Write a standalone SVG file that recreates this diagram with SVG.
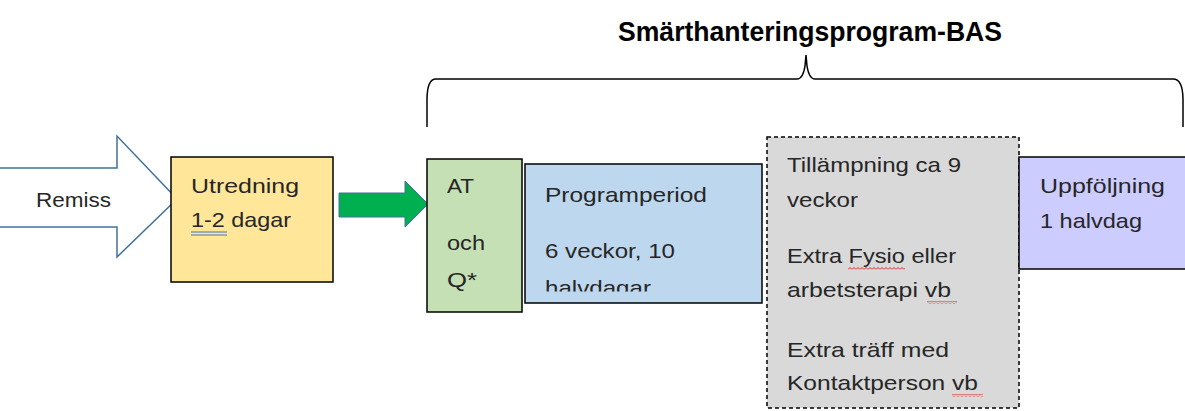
<svg xmlns="http://www.w3.org/2000/svg" width="1185" height="411" viewBox="0 0 1185 411">
<style>
.t{font-family:"Liberation Sans",Arial,sans-serif;font-size:21px;fill:#262626}
.title{font-family:"Liberation Sans",Arial,sans-serif;font-size:28px;font-weight:bold;fill:#000}
.box{stroke:#000;stroke-width:1.5}
.brace{fill:none;stroke:#000;stroke-width:1.5}
</style>
<defs>
<pattern id="wave" x="0" y="0" width="4" height="3" patternUnits="userSpaceOnUse">
<path d="M0,2.5 L2,0.5 L4,2.5" fill="none" stroke="#E02020" stroke-width="1"/>
</pattern>
<clipPath id="clipProg"><rect x="525" y="164" width="237" height="127.5"/></clipPath>
</defs>
<rect width="1185" height="411" fill="#fff"/>

<g id="title">
<text class="title" x="618" y="41" textLength="384" lengthAdjust="spacingAndGlyphs">Smärthanteringsprogram-BAS</text>
</g>

<g id="brace">
<path class="brace" d="M427,127 L427,100 Q427,79 436,79 L797,79 Q803,79 805,66 L806,55 L807,66 Q809,79 815,79 L1173,79 Q1183,79 1183,100 L1183,127"/>
</g>

<g id="connectors">
<path id="remiss-arrow" d="M0,168 L117,168 L117,136 L177,199 L117,257 L117,227 L0,227" fill="#fff" stroke="#41719C" stroke-width="1.5"/>
<polygon id="green-arrow" points="339,193 405,193 405,181 428,204 405,227 405,217 339,217" fill="#00B050" stroke="#41719C" stroke-width="1"/>
</g>

<g id="remiss">
<text class="t" x="36" y="207" textLength="75" lengthAdjust="spacingAndGlyphs">Remiss</text>
</g>

<g id="utredning">
<rect class="box" x="171" y="157" width="162" height="125" fill="#FFE699"/>
<text class="t" x="191" y="193" textLength="108" lengthAdjust="spacingAndGlyphs">Utredning</text>
<text class="t" x="191" y="227" textLength="100" lengthAdjust="spacingAndGlyphs">1-2 dagar</text>
<line x1="191" y1="232" x2="227" y2="232" stroke="#4472C4" stroke-width="1"/>
<line x1="191" y1="235" x2="227" y2="235" stroke="#4472C4" stroke-width="1"/>
</g>

<g id="at">
<rect class="box" x="427" y="159" width="95" height="153" fill="#C5E0B4"/>
<text class="t" x="447" y="193" textLength="27" lengthAdjust="spacingAndGlyphs">AT</text>
<text class="t" x="447" y="250" textLength="38" lengthAdjust="spacingAndGlyphs">och</text>
<text class="t" x="447" y="287" textLength="30" lengthAdjust="spacingAndGlyphs">Q*</text>
</g>

<g id="programperiod">
<rect class="box" x="525" y="164" width="237" height="139" fill="#BDD7EE"/>
<g clip-path="url(#clipProg)">
<text class="t" x="545" y="202" textLength="162" lengthAdjust="spacingAndGlyphs">Programperiod</text>
<text class="t" x="545" y="258" textLength="130" lengthAdjust="spacingAndGlyphs">6 veckor, 10</text>
<text class="t" x="545" y="295" textLength="106" lengthAdjust="spacingAndGlyphs">halvdagar</text>
</g>
</g>

<g id="tillampning">
<rect x="767" y="137" width="252" height="271" fill="#D9D9D9" stroke="#000" stroke-width="1.5" stroke-dasharray="4,3"/>
<text class="t" x="787" y="172" textLength="174" lengthAdjust="spacingAndGlyphs">Tillämpning ca 9</text>
<text class="t" x="787" y="207" textLength="71" lengthAdjust="spacingAndGlyphs">veckor</text>
<text class="t" x="787" y="263" textLength="169" lengthAdjust="spacingAndGlyphs">Extra Fysio eller</text>
<text class="t" x="787" y="297" textLength="164" lengthAdjust="spacingAndGlyphs">arbetsterapi vb</text>
<text class="t" x="787" y="357" textLength="162" lengthAdjust="spacingAndGlyphs">Extra träff med</text>
<text class="t" x="787" y="390" textLength="191" lengthAdjust="spacingAndGlyphs">Kontaktperson vb</text>
<rect x="848" y="267" width="57" height="3" fill="url(#wave)"/>
<rect x="927" y="301" width="30" height="3" fill="url(#wave)"/>
<rect x="952" y="394" width="31" height="3" fill="url(#wave)"/>
</g>

<g id="uppfoljning">
<rect class="box" x="1019" y="157" width="170" height="112" fill="#CCCCFF"/>
<text class="t" x="1040" y="193" textLength="125" lengthAdjust="spacingAndGlyphs">Uppföljning</text>
<text class="t" x="1040" y="228" textLength="102" lengthAdjust="spacingAndGlyphs">1 halvdag</text>
</g>
</svg>
